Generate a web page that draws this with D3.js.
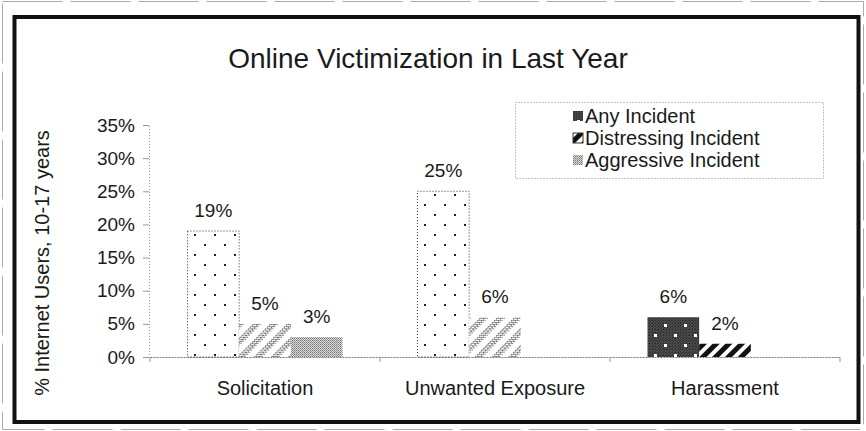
<!DOCTYPE html>
<html>
<head>
<meta charset="utf-8">
<script src="https://cdn.jsdelivr.net/npm/d3@7"></script>
<style>
  body { margin: 0; background: #fff; }
  svg { display: block; }
  text { font-family: "Liberation Sans", Arial, sans-serif; fill: #1a1a1a; }
</style>
</head>
<body>
<svg id="chart1"></svg>
<script>
var categories = ['Solicitation', 'Unwanted Exposure', 'Harassment'];
var seriesNames = ['Any Incident', 'Distressing Incident', 'Aggressive Incident'];
var anyIncident = [19, 25, 6];
var distressingIncident = [5, 6, 2];
var aggressiveIncident = [3, null, null];
var yTicks = [0, 5, 10, 15, 20, 25, 30, 35];

var seriesValues = [anyIncident, distressingIncident, aggressiveIncident];
var width = 866, height = 431;
var font = '"Liberation Sans", Arial, sans-serif';

var svg = d3.select('#chart1')
  .attr('width', width)
  .attr('height', height);

svg.append('rect').attr('width', width).attr('height', height).attr('fill', '#fff');

// patterns, the scan uses black & white fills instead of colours
var defs = svg.append('defs');

function stipple(id, color, size) {
  var p = defs.append('pattern').attr('id', id)
    .attr('patternUnits', 'userSpaceOnUse')
    .attr('width', size).attr('height', size);
  p.append('rect').attr('width', size).attr('height', size).attr('fill', '#fff');
  p.append('rect').attr('width', 1).attr('height', 1).attr('fill', color);
  p.append('rect').attr('x', 1).attr('y', 1).attr('width', 1).attr('height', 1).attr('fill', color);
  if (size > 2) {
    p.append('rect').attr('x', 2).attr('y', 0).attr('width', 1).attr('height', 1).attr('fill', color);
    p.append('rect').attr('x', 0).attr('y', 2).attr('width', 1).attr('height', 1).attr('fill', color);
  }
  return p;
}
stipple('grayDots', '#666', 3);

var dots = defs.append('pattern').attr('id', 'anyLight')
  .attr('patternUnits', 'userSpaceOnUse').attr('width', 20).attr('height', 20);
dots.append('rect').attr('width', 20).attr('height', 20).attr('fill', '#fff');
dots.append('rect').attr('x', 4).attr('y', 4).attr('width', 2).attr('height', 2).attr('fill', '#222');
dots.append('rect').attr('x', 14).attr('y', 14).attr('width', 2).attr('height', 2).attr('fill', '#222');

var darkDots = defs.append('pattern').attr('id', 'anyDark')
  .attr('patternUnits', 'userSpaceOnUse').attr('width', 20).attr('height', 20);
darkDots.append('rect').attr('width', 20).attr('height', 20).attr('fill', '#262626');
darkDots.append('rect').attr('width', 20).attr('height', 20).attr('fill', 'url(#grayDots)').attr('opacity', 0.18);
darkDots.append('rect').attr('x', 4).attr('y', 4).attr('width', 3).attr('height', 3).attr('fill', '#fff');
darkDots.append('rect').attr('x', 14).attr('y', 14).attr('width', 3).attr('height', 3).attr('fill', '#fff');

var stripes = defs.append('pattern').attr('id', 'distLight')
  .attr('patternUnits', 'userSpaceOnUse').attr('width', 12).attr('height', 12)
  .attr('patternTransform', 'rotate(45)');
stripes.append('rect').attr('width', 12).attr('height', 12).attr('fill', '#fff');
stripes.append('rect').attr('width', 6).attr('height', 12).attr('fill', 'url(#grayDots)');

var darkStripes = defs.append('pattern').attr('id', 'distDark')
  .attr('patternUnits', 'userSpaceOnUse').attr('width', 9).attr('height', 9)
  .attr('patternTransform', 'rotate(45)');
darkStripes.append('rect').attr('width', 9).attr('height', 9).attr('fill', '#fff');
darkStripes.append('rect').attr('width', 5).attr('height', 9).attr('fill', '#111');

var aggr = defs.append('pattern').attr('id', 'aggr')
  .attr('patternUnits', 'userSpaceOnUse').attr('width', 2).attr('height', 2);
aggr.append('rect').attr('width', 2).attr('height', 2).attr('fill', '#dadada');
aggr.append('rect').attr('width', 1).attr('height', 1).attr('fill', '#777');
aggr.append('rect').attr('x', 1).attr('y', 1).attr('width', 1).attr('height', 1).attr('fill', '#999');

function fillFor(si, cat) {
  var dark = cat === 'Harassment';
  if (si === 0) return dark ? 'url(#anyDark)' : 'url(#anyLight)';
  if (si === 1) return dark ? 'url(#distDark)' : 'url(#distLight)';
  return 'url(#aggr)';
}
var legendFills = ['url(#anyDark)', 'url(#distDark)', 'url(#aggr)'];

// frames
svg.append('rect')
  .attr('x', 2.5).attr('y', 1.5).attr('width', 861).attr('height', 428)
  .attr('fill', 'none').attr('stroke', '#aaa').attr('stroke-width', 1)
  .attr('stroke-dasharray', '60,8');
svg.append('rect')
  .attr('x', 14.5).attr('y', 17).attr('width', 844).attr('height', 405)
  .attr('fill', 'none').attr('stroke', '#111').attr('stroke-width', 4);

var x0 = d3.scaleBand()
  .domain(categories)
  .range([150, 840])
  .paddingInner(0.326)
  .paddingOuter(0.163);
var x1 = d3.scaleBand()
  .domain(seriesNames)
  .range([0, x0.bandwidth()]);
var y = d3.scaleLinear()
  .domain([0, 35])
  .range([357, 125]);

// title
svg.append('text')
  .attr('x', 428).attr('y', 68)
  .attr('text-anchor', 'middle')
  .attr('font-size', '28px')
  .text('Online Victimization in Last Year');

// y axis
var yAxis = d3.axisLeft(y)
  .tickValues(yTicks)
  .tickSize(6)
  .tickPadding(8)
  .tickFormat(function (d) { return d + '%'; });
var gy = svg.append('g')
  .attr('transform', 'translate(149,0)')
  .call(yAxis);
gy.select('.domain').attr('stroke', '#999').attr('stroke-dasharray', '1,2');
gy.selectAll('.tick line').attr('stroke', '#999');
gy.selectAll('.tick text').attr('font-size', '19px').attr('font-family', font).attr('fill', '#1a1a1a');

// x axis
var xAxis = d3.axisBottom(x0).tickSize(0).tickPadding(24);
var gx = svg.append('g')
  .attr('transform', 'translate(0,357)')
  .call(xAxis);
gx.select('.domain').attr('stroke', '#777').attr('stroke-dasharray', '2,1');
gx.selectAll('.tick text').attr('font-size', '20px').attr('font-family', font).attr('fill', '#1a1a1a');
svg.append('g').selectAll('line')
  .data(categories.concat(['end']))
  .enter().append('line')
  .attr('x1', function (d, i) { return 150 + i * x0.step(); })
  .attr('x2', function (d, i) { return 150 + i * x0.step(); })
  .attr('y1', 357).attr('y2', 362)
  .attr('stroke', '#999');

svg.append('text')
  .attr('transform', 'translate(49,263) rotate(-90)')
  .attr('text-anchor', 'middle')
  .attr('font-size', '20px')
  .text('% Internet Users, 10-17 years');

// bars
var rows = [];
categories.forEach(function (c, ci) {
  seriesNames.forEach(function (s, si) {
    var v = seriesValues[si][ci];
    if (v !== null) rows.push({ cat: c, series: s, si: si, value: v });
  });
});

svg.append('g').selectAll('rect')
  .data(rows)
  .enter()
  .append('rect')
  .attr('x', function (d) { return x0(d.cat) + x1(d.series); })
  .attr('y', function (d) { return y(d.value); })
  .attr('width', x1.bandwidth())
  .attr('height', function (d) { return y(0) - y(d.value); })
  .attr('fill', function (d) { return fillFor(d.si, d.cat); })
  .attr('stroke', function (d) { return d.si === 0 && d.cat !== 'Harassment' ? '#333' : 'none'; })
  .attr('stroke-width', 1)
  .attr('stroke-dasharray', '1,2');

svg.append('g').selectAll('text')
  .data(rows)
  .enter()
  .append('text')
  .attr('x', function (d) { return x0(d.cat) + x1(d.series) + x1.bandwidth() / 2; })
  .attr('y', function (d) { return y(d.value) - 14; })
  .attr('text-anchor', 'middle')
  .attr('font-size', '19px')
  .text(function (d) { return d.value + '%'; });

// legend
var legend = svg.append('g');
legend.append('rect')
  .attr('x', 515.5).attr('y', 102.5).attr('width', 308).attr('height', 76)
  .attr('fill', '#fff').attr('stroke', '#888').attr('stroke-dasharray', '1,2');
var items = legend.selectAll('g.item')
  .data(seriesNames)
  .enter().append('g')
  .attr('class', 'item')
  .attr('transform', function (d, i) { return 'translate(573,' + (116 + i * 22) + ')'; });
items.append('rect')
  .attr('x', 0).attr('y', -5).attr('width', 10).attr('height', 10)
  .attr('fill', function (d, i) { return legendFills[i]; })
  .attr('stroke', function (d, i) { return i === 1 ? '#333' : 'none'; })
  .attr('stroke-width', 1);
items.append('text')
  .attr('x', 12).attr('y', 7)
  .attr('font-size', '20px')
  .text(function (d) { return d; });
</script>
</body>
</html>
